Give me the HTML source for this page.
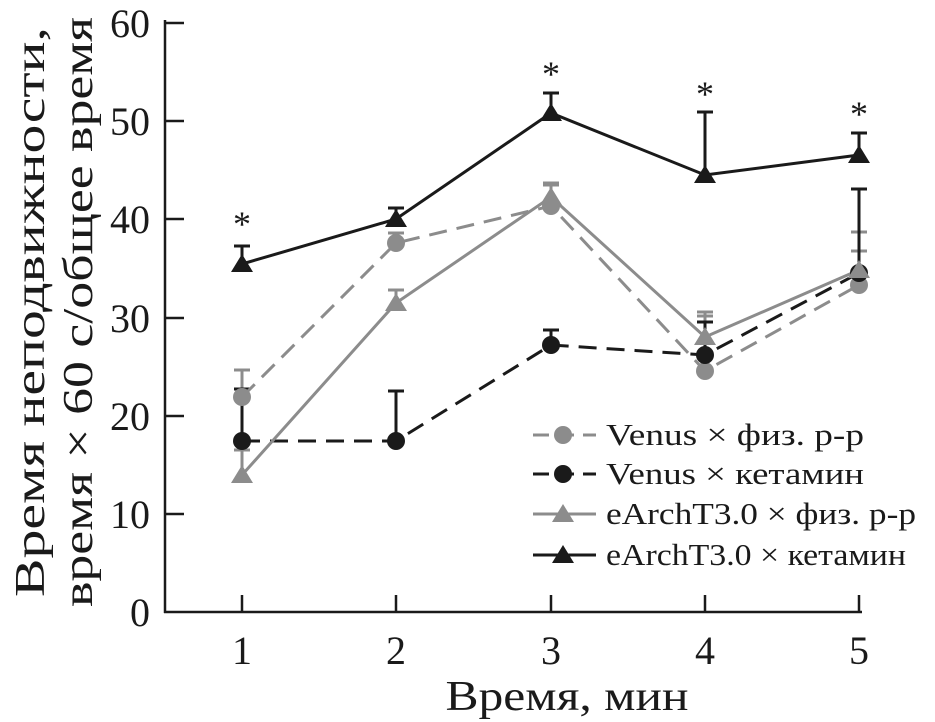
<!DOCTYPE html><html><head><meta charset="utf-8"><style>body{margin:0;background:#fff}svg{display:block}text{font-family:"Liberation Serif",serif}</style></head><body>
<svg width="935" height="722" xmlns="http://www.w3.org/2000/svg">
<g stroke="#1a1a1a" stroke-width="2.5" fill="none">
<line x1="165" y1="20" x2="165" y2="613"/><line x1="164" y1="612" x2="862" y2="612"/>
<line x1="165" y1="23" x2="184" y2="23"/><line x1="165" y1="121" x2="184" y2="121"/><line x1="165" y1="219" x2="184" y2="219"/><line x1="165" y1="318" x2="184" y2="318"/><line x1="165" y1="416" x2="184" y2="416"/><line x1="165" y1="514" x2="184" y2="514"/>
<line x1="242" y1="612" x2="242" y2="595"/><line x1="396" y1="612" x2="396" y2="595"/><line x1="551" y1="612" x2="551" y2="595"/><line x1="705" y1="612" x2="705" y2="595"/><line x1="859" y1="612" x2="859" y2="595"/>
</g>
<g font-size="40" text-anchor="end" fill="#1a1a1a"><text x="150" y="37">60</text><text x="150" y="135">50</text><text x="150" y="233">40</text><text x="150" y="332">30</text><text x="150" y="430">20</text><text x="150" y="528">10</text><text x="150" y="626">0</text></g>
<g font-size="40" text-anchor="middle" fill="#1a1a1a"><text x="242" y="664">1</text><text x="396" y="664">2</text><text x="551" y="664">3</text><text x="705" y="664">4</text><text x="859" y="664">5</text>
<text x="567" y="710" font-size="42" textLength="243" lengthAdjust="spacingAndGlyphs">Время, мин</text>
<text transform="translate(44,312) rotate(-90)" font-size="42" textLength="570" lengthAdjust="spacingAndGlyphs">Время неподвижности,</text>
<text transform="translate(92,312) rotate(-90)" font-size="42" textLength="590" lengthAdjust="spacingAndGlyphs">время × 60 с/общее время</text>
<text x="242" y="236" font-size="36">*</text><text x="551" y="86" font-size="36">*</text><text x="705" y="106" font-size="36">*</text><text x="859" y="126" font-size="36">*</text></g>
<g stroke="#8c8c8c" stroke-width="3">
<path d="M242 397V370M234 370h16M396 243V233M388 233h16M551 206V183M543 183h16M705 371V312M697 312h16M859 285V251M851 251h16"/>
<path d="M242 475V450M234 450h16M396 303V290M388 290h16M551 197V185M543 185h16M705 337V316M697 316h16M859 270V232M851 232h16"/>
</g>
<g stroke="#1a1a1a" stroke-width="3">
<path d="M242 441V389M234 389h16M396 441V391M388 391h16M551 345V330M543 330h16M705 355V322M697 322h16M859 273V189M851 189h16"/>
<path d="M242 264V246M234 246h16M396 219V208M388 208h16M551 113V93M543 93h16M705 175V112M697 112h16M859 155V133M851 133h16"/>
</g>
<polyline points="242,397 396,243 551,206 705,371 859,285" fill="none" stroke="#8c8c8c" stroke-width="3" stroke-dasharray="18,10"/>
<polyline points="242,441 396,441 551,345 705,355 859,273" fill="none" stroke="#1a1a1a" stroke-width="3" stroke-dasharray="18,10"/>
<polyline points="242,475 396,303 551,197 705,337 859,270" fill="none" stroke="#8c8c8c" stroke-width="3"/>
<polyline points="242,264 396,219 551,113 705,175 859,155" fill="none" stroke="#1a1a1a" stroke-width="3"/>
<g fill="#8c8c8c"><circle cx="242" cy="397" r="9"/><circle cx="396" cy="243" r="9"/><circle cx="551" cy="206" r="9"/><circle cx="705" cy="371" r="9"/><circle cx="859" cy="285" r="9"/></g>
<g fill="#1a1a1a"><circle cx="242" cy="441" r="9"/><circle cx="396" cy="441" r="9"/><circle cx="551" cy="345" r="9"/><circle cx="705" cy="355" r="9"/><circle cx="859" cy="273" r="9"/></g>
<g fill="#8c8c8c"><path d="M242 465l11 18h-22z"/><path d="M396 293l11 18h-22z"/><path d="M551 187l11 18h-22z"/><path d="M705 327l11 18h-22z"/><path d="M859 260l11 18h-22z"/></g>
<g fill="#1a1a1a"><path d="M242 254l11 18h-22z"/><path d="M396 209l11 18h-22z"/><path d="M551 103l11 18h-22z"/><path d="M705 165l11 18h-22z"/><path d="M859 145l11 18h-22z"/></g>
<line x1="533" y1="435" x2="596" y2="435" stroke="#8c8c8c" stroke-width="3" stroke-dasharray="16,9"/><circle cx="563" cy="435" r="9" fill="#8c8c8c"/>
<line x1="533" y1="474" x2="596" y2="474" stroke="#1a1a1a" stroke-width="3" stroke-dasharray="16,9"/><circle cx="563" cy="474" r="9" fill="#1a1a1a"/>
<line x1="533" y1="514" x2="596" y2="514" stroke="#8c8c8c" stroke-width="3"/><path d="M563 504l11 18h-22z" fill="#8c8c8c"/>
<line x1="533" y1="555" x2="596" y2="555" stroke="#1a1a1a" stroke-width="3"/><path d="M563 545l11 18h-22z" fill="#1a1a1a"/>
<g font-size="31" fill="#1a1a1a"><text x="606" y="445" textLength="258" lengthAdjust="spacingAndGlyphs">Venus × физ. р-р</text><text x="606" y="484" textLength="258" lengthAdjust="spacingAndGlyphs">Venus × кетамин</text><text x="606" y="524" textLength="310" lengthAdjust="spacingAndGlyphs">eArchT3.0 × физ. р-р</text><text x="606" y="565" textLength="300" lengthAdjust="spacingAndGlyphs">eArchT3.0 × кетамин</text></g>
</svg></body></html>
